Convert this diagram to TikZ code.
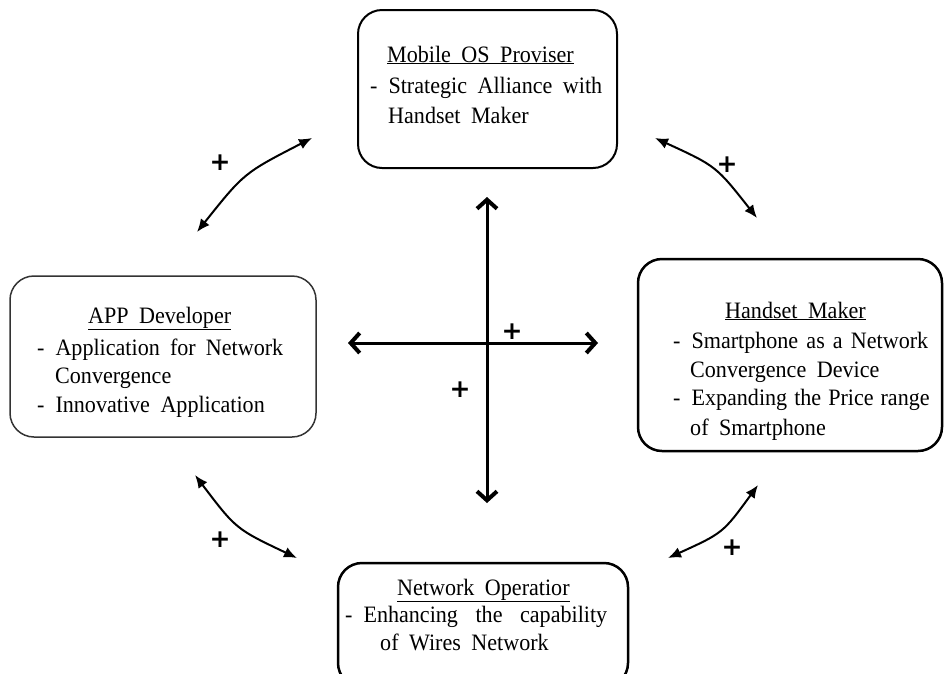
\documentclass[tikz,border=0pt]{standalone}
\usepackage{fontspec}
\setmainfont{Liberation Serif}[WordSpace=1.9, FakeStretch=0.94]
\newfontfamily\plusfont{DejaVu Sans}
\usetikzlibrary{arrows.meta}

\tikzset{
  actor/.style={draw=black, line width=2pt, rounded corners=24pt, inner sep=0pt},
  txt/.style={anchor=base west, inner sep=0pt, font=\fontsize{23.5}{27}\selectfont},
  plus/.style={inner sep=0pt, font=\plusfont\bfseries\fontsize{25}{25}\selectfont},
  link/.style={line width=2pt, {Latex[length=13pt,width=11pt]}-{Latex[length=13pt,width=11pt]}},
  axis/.style={line width=3pt,
    {Straight Barb[length=9pt,width=20pt,line width=4pt]}-{Straight Barb[length=9pt,width=20pt,line width=4pt]}}
}
\newcommand{\ul}[1]{\underline{#1}}
% justified line whose leading dash keeps a fixed gap
\newcommand{\just}[2]{\makebox[#1][s]{#2}}
\newcommand{\dash}{-\hspace*{11pt}}

\begin{document}
\begin{tikzpicture}[x=1pt,y=-1pt]
\useasboundingbox (0,0) rectangle (944,673);

% actor boxes
\node[actor, minimum width=259pt, minimum height=158pt] (os) at (487.5,89) {};
\node[actor, draw=black!80, line width=1.5pt, minimum width=306pt, minimum height=161pt] (app) at (163,356.5) {};
\node[actor, line width=2.5pt, minimum width=304pt, minimum height=192pt] (hs) at (790,355) {};
\node[actor, line width=2.5pt, minimum width=290pt, minimum height=124pt] (net) at (483,625) {};

% Mobile OS provider
\node[txt] (os1) at (387,62) {\ul{Mobile OS Proviser}};
\node[txt] (os2) at (370,93) {\just{232pt}{\dash Strategic Alliance with}};
\node[txt] (os3) at (388,123) {Handset Maker};

% APP developer
\node[txt] (app1) at (88,323) {\ul{APP Developer}};
\node[txt] (app2) at (37,355) {\just{246pt}{\dash Application for Network}};
\node[txt] (app3) at (55,383) {Convergence};
\node[txt] (app4) at (37,412) {\dash Innovative Application};

% Handset maker
\node[txt] (hs1) at (725,318) {\ul{Handset Maker}};
\node[txt] (hs2) at (673,348) {\just{255pt}{\dash Smartphone as a Network}};
\node[txt] (hs3) at (690,377) {Convergence Device};
\node[txt] (hs4) at (673,405) {\just{255pt}{\dash Expanding the Price range}};
\node[txt] (hs5) at (690,435) {of Smartphone};

% Network operator
\node[txt] (net1) at (397,595) {\ul{Network Operatior}};
\node[txt] (net2) at (345,622) {\just{262pt}{\dash Enhancing the capability}};
\node[txt] (net3) at (380,650) {of Wires Network};

% curved links between neighbouring actors
\coordinate (tl1) at (197,232); \coordinate (tl2) at (312,138);
\coordinate (tr1) at (655,138); \coordinate (tr2) at (757,218);
\coordinate (bl1) at (195,475); \coordinate (bl2) at (297,558);
\coordinate (br1) at (668,558); \coordinate (br2) at (758,485);
\draw[link] (tl1) .. controls (244,173) .. (tl2);
\draw[link] (tr1) .. controls (716,166) .. (tr2);
\draw[link] (bl1) .. controls (236,529) .. (bl2);
\draw[link] (br1) .. controls (723,533) .. (br2);

\node[plus] (p1) at (220,163) {+};
\node[plus] (p2) at (727,165) {+};
\node[plus] (p3) at (220,540) {+};
\node[plus] (p4) at (732,548) {+};

% central cross
\coordinate (up) at (487,197);
\coordinate (down) at (487,503);
\coordinate (left) at (348,343);
\coordinate (right) at (598,343);
\draw[axis] (down) -- (up);
\draw[axis] (left) -- (right);
\node[plus] (p5) at (512,332) {+};
\node[plus] (p6) at (460,390) {+};
\end{tikzpicture}
\end{document}
